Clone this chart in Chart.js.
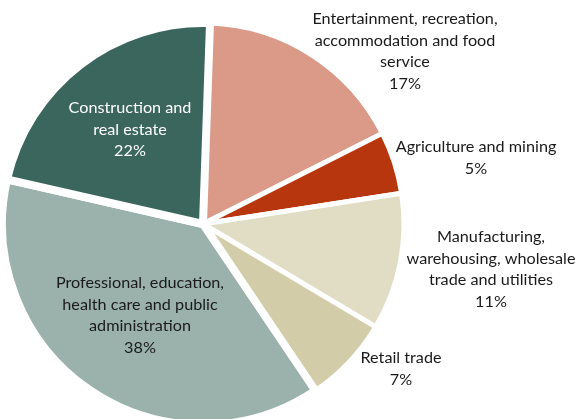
<!DOCTYPE html>
<html>
<head>
<meta charset="utf-8">
<title>Employment by industry</title>
<script src="https://cdn.jsdelivr.net/npm/chart.js@4/dist/chart.umd.min.js"></script>
<style>
  html, body { margin: 0; padding: 0; background: #fff; }
  #wrap { width: 576px; height: 419px; }
</style>
</head>
<body>
<div id="wrap"><canvas id="pie" width="576" height="419"></canvas></div>
<script>
// industry groups, clockwise from the top
const categories = [
  ['Entertainment, recreation,', 'accommodation and food', 'service'],
  ['Agriculture and mining'],
  ['Manufacturing,', 'warehousing, wholesale', 'trade and utilities'],
  ['Retail trade'],
  ['Professional, education,', 'health care and public', 'administration'],
  ['Construction and', 'real estate']
];
const shares = [17, 5, 11, 7, 38, 22];

const sliceColors = ['#DA9A87', '#B8360E', '#E0DDC4', '#D2CDA8', '#9BB2AC', '#3B665E'];
const gapWidths = [5, 5, 5, 5, 8, 8];

// label anchors, offset from the pie centre (first line)
const labelSpots = [
  { dx: 202, dy: -205, color: '#1a1a1a' },
  { dx: 273, dy: -77, color: '#1a1a1a' },
  { dx: 288, dy: 13, color: '#1a1a1a' },
  { dx: 198, dy: 134, color: '#1a1a1a' },
  { dx: -63, dy: 59, color: '#1a1a1a' },
  { dx: -73, dy: -116, color: '#ffffff' }
];
const lineHeight = 21.5;

const sliceLabels = {
  id: 'sliceLabels',
  afterDatasetsDraw(chart) {
    const ctx = chart.ctx;
    const arcs = chart.getDatasetMeta(0).data;
    const values = chart.data.datasets[0].data;
    ctx.save();
    ctx.font = '16.2px Lato';
    ctx.textAlign = 'center';
    ctx.textBaseline = 'middle';
    arcs.forEach((arc, i) => {
      const spot = labelSpots[i];
      const lines = chart.data.labels[i].concat([values[i] + '%']);
      ctx.fillStyle = spot.color;
      lines.forEach((line, j) => {
        ctx.fillText(line, arc.x + spot.dx, arc.y + spot.dy + j * lineHeight);
      });
    });
    ctx.restore();
  }
};

new Chart(document.getElementById('pie'), {
  type: 'pie',
  data: {
    labels: categories,
    datasets: [{
      data: shares,
      backgroundColor: sliceColors,
      borderColor: '#ffffff',
      borderWidth: gapWidths
    }]
  },
  options: {
    responsive: false,
    devicePixelRatio: 1,
    animation: false,
    rotation: 2,
    radius: 201,
    layout: { padding: { left: 0, right: 170, top: 29, bottom: 0 } },
    plugins: {
      legend: { display: false },
      tooltip: { enabled: false }
    }
  },
  plugins: [sliceLabels]
});
</script>
</body>
</html>
